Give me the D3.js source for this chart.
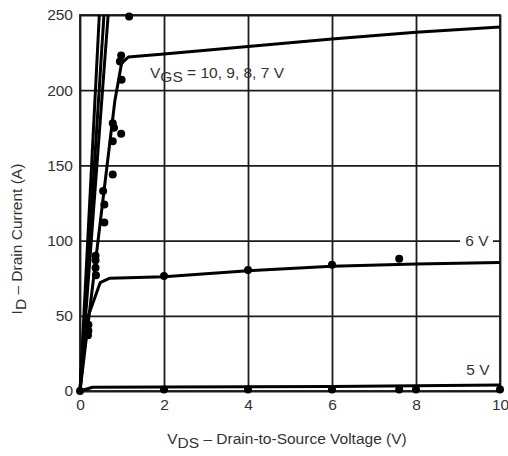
<!DOCTYPE html>
<html>
<head>
<meta charset="utf-8">
<script src="https://cdn.jsdelivr.net/npm/d3@7"></script>
<style>
  body { margin: 0; background: #fff; }
  text { font-family: "Liberation Sans", Arial, sans-serif; fill: #333; }
</style>
</head>
<body>
<div id="chart"></div>
<script>
// output characteristics
var xTicks = [0, 2, 4, 6, 8, 10];
var yTicks = [0, 50, 100, 150, 200, 250];

// steep lines at the top of the family (VGS = 10, 9, 8)
var steepVds = [[0, 0.46], [0, 0.57], [0, 0.67]];
var steepId = [0, 250];

var vgs7Vds = [0, 0.58, 0.83, 0.99, 1.15, 2, 4, 6, 8, 10];
var vgs7Id = [0, 135, 193, 218, 222, 224, 229, 234, 238.5, 242];

var vgs6Vds = [0, 0.16, 0.48, 0.71, 2, 4, 6, 8, 10];
var vgs6Id = [0, 47, 72, 75, 76, 80, 83, 84.5, 85.5];

var vgs5Vds = [0, 0.3, 2, 4, 6, 8, 10];
var vgs5Id = [0, 2.5, 2.6, 2.8, 3, 3.5, 4];

// measured points
var measVds = [1.17, 0.98, 0.95, 0.99, 0.78, 0.81, 0.98, 0.78, 0.78, 0.55, 0.58, 0.58,
  0.37, 0.37, 0.37, 0.38, 0.2, 0.2, 0.19, 2, 4, 6, 7.6, 2, 4, 6, 7.6, 8, 10, 0];
var measId = [249, 223, 219, 207, 178, 175, 171, 166, 144, 133, 124, 112,
  90, 87, 82, 77, 44, 40, 37, 76.5, 80.5, 84, 88, 1, 1, 1, 1, 1, 1, 0];

var margin = { top: 15, right: 8, bottom: 65, left: 80 },
  width = 508 - margin.left - margin.right,
  height = 456 - margin.top - margin.bottom;
var fs = 15.5;

var svg = d3.select("#chart").append("svg")
  .attr("width", 508).attr("height", 456)
  .append("g")
  .attr("transform", "translate(" + margin.left + "," + margin.top + ")");

var x = d3.scaleLinear().domain([0, 10]).range([0, 420]);
var y = d3.scaleLinear().domain([0, 250]).range([376, 0]);

// grid + tick labels
var xAxis = svg.append("g")
  .attr("transform", "translate(0,376)")
  .call(d3.axisBottom(x).tickValues(xTicks).tickSize(-376).tickPadding(8));
var yAxis = svg.append("g")
  .call(d3.axisLeft(y).tickValues(yTicks).tickSize(-420).tickPadding(7));
[xAxis, yAxis].forEach(function (a) {
  a.select(".domain").remove();
  a.selectAll("line").attr("stroke", "#1c1c1c").attr("stroke-width", 1.8);
  a.selectAll("text").attr("font-size", fs).attr("fill", "#333");
});
svg.append("rect")
  .attr("width", 420).attr("height", 376)
  .attr("fill", "none").attr("stroke", "#1c1c1c").attr("stroke-width", 1.8);

// white patch behind the "6 V" label on the 100 A grid line
svg.append("rect")
  .attr("x", 380).attr("y", y(100) - 4).attr("width", 33).attr("height", 8)
  .attr("fill", "#fff");

var line = d3.line()
  .x(function (d) { return x(d[0]); })
  .y(function (d) { return y(d[1]); });

function zip(a, b) {
  return a.map(function (v, i) { return [v, b[i]]; });
}

var curves = steepVds.map(function (v) { return zip(v, steepId); });
curves.push(zip(vgs7Vds, vgs7Id), zip(vgs6Vds, vgs6Id), zip(vgs5Vds, vgs5Id));

svg.append("g").selectAll("path")
  .data(curves)
  .enter().append("path")
  .attr("d", line)
  .attr("fill", "none")
  .attr("stroke", "#000")
  .attr("stroke-width", 3)
  .attr("stroke-linejoin", "round");

svg.append("g").selectAll("circle")
  .data(zip(measVds, measId))
  .enter().append("circle")
  .attr("cx", function (d) { return x(d[0]); })
  .attr("cy", function (d) { return y(d[1]); })
  .attr("r", 4)
  .attr("fill", "#000");

// curve labels
var lab = svg.append("text").attr("x", 70).attr("y", 63).attr("font-size", fs);
lab.append("tspan").text("V");
lab.append("tspan").attr("dy", 4).text("GS");
lab.append("tspan").attr("dy", -4).text(" = 10, 9, 8, 7 V");

svg.append("text").attr("x", 397).attr("y", y(100) + 5.5)
  .attr("text-anchor", "middle").attr("font-size", fs).text("6 V");
svg.append("text").attr("x", 398).attr("y", 360)
  .attr("text-anchor", "middle").attr("font-size", fs).text("5 V");

// axis titles
var xt = svg.append("text").attr("x", 207).attr("y", 429)
  .attr("text-anchor", "middle").attr("font-size", fs);
xt.append("tspan").text("V");
xt.append("tspan").attr("dy", 4).text("DS");
xt.append("tspan").attr("dy", -4).text(" \u2013 Drain-to-Source Voltage (V)");

var yt = svg.append("text")
  .attr("transform", "translate(-58," + 224 + ") rotate(-90)")
  .attr("text-anchor", "middle").attr("font-size", fs);
yt.append("tspan").text("I");
yt.append("tspan").attr("dy", 4).text("D");
yt.append("tspan").attr("dy", -4).text(" \u2013 Drain Current (A)");
</script>
</body>
</html>
